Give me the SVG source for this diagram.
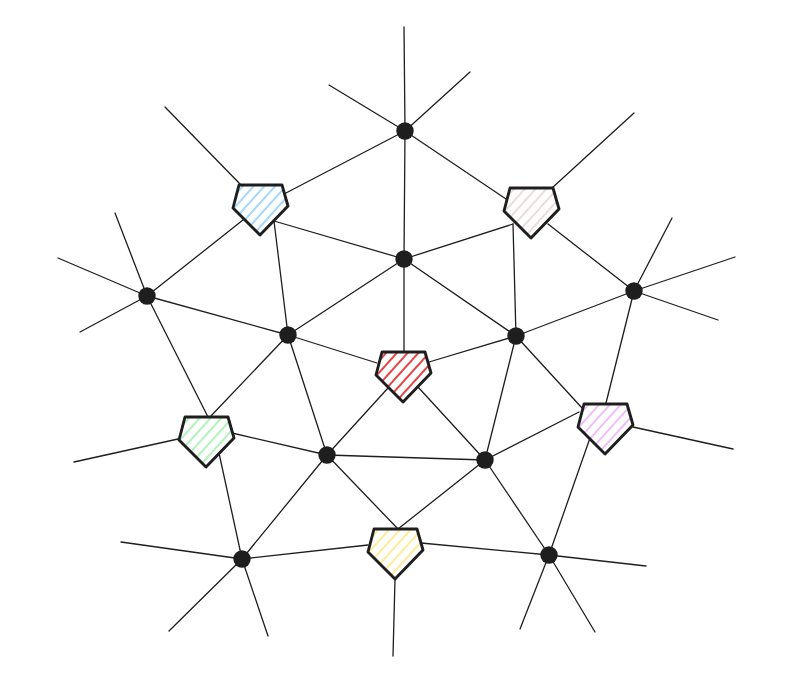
<svg xmlns="http://www.w3.org/2000/svg" width="794" height="694" viewBox="0 0 794 694">
<style>
.e{stroke:#1e1e1e;stroke-width:1.3;fill:none;stroke-linecap:round}
.d{fill:#1e1e1e}
.p{stroke:#1e1e1e;stroke-width:2.9;stroke-linejoin:round}
</style>
<defs>
<path id="pent" d="M-21,-24 L22,-24 L28,-3 L0,26 L-27,-1 Z"/>
<pattern id="hb" width="8" height="8" patternUnits="userSpaceOnUse" patternTransform="rotate(42)"><rect width="8" height="8" fill="#fff"/><line x1="4" y1="0" x2="4" y2="8" stroke="#a5d8ff" stroke-width="2"/></pattern>
<pattern id="hg" width="8" height="8" patternUnits="userSpaceOnUse" patternTransform="rotate(42)"><rect width="8" height="8" fill="#fff"/><line x1="4" y1="0" x2="4" y2="8" stroke="#eaddd7" stroke-width="2"/></pattern>
<pattern id="hr" width="8" height="8" patternUnits="userSpaceOnUse" patternTransform="rotate(42)"><rect width="8" height="8" fill="#fff"/><line x1="4" y1="0" x2="4" y2="8" stroke="#e03131" stroke-width="1.8"/></pattern>
<pattern id="hgr" width="8" height="8" patternUnits="userSpaceOnUse" patternTransform="rotate(42)"><rect width="8" height="8" fill="#fff"/><line x1="4" y1="0" x2="4" y2="8" stroke="#b2f2bb" stroke-width="2"/></pattern>
<pattern id="hp" width="8" height="8" patternUnits="userSpaceOnUse" patternTransform="rotate(42)"><rect width="8" height="8" fill="#fff"/><line x1="4" y1="0" x2="4" y2="8" stroke="#eebefa" stroke-width="2"/></pattern>
<pattern id="hy" width="8" height="8" patternUnits="userSpaceOnUse" patternTransform="rotate(42)"><rect width="8" height="8" fill="#fff"/><line x1="4" y1="0" x2="4" y2="8" stroke="#ffec99" stroke-width="2"/></pattern>
</defs>
<rect width="794" height="694" fill="#fff"/>
<g id="connectors" class="e">
<line x1="405" y1="131" x2="404" y2="27"/>
<line x1="405" y1="131" x2="329" y2="85"/>
<line x1="405" y1="131" x2="470" y2="72"/>
<line x1="240" y1="184" x2="165" y2="107"/>
<line x1="552" y1="188" x2="634" y2="113"/>
<line x1="147" y1="296" x2="115" y2="213"/>
<line x1="147" y1="296" x2="58" y2="258"/>
<line x1="147" y1="296" x2="80" y2="332"/>
<line x1="634" y1="291" x2="672" y2="218"/>
<line x1="634" y1="291" x2="735" y2="257"/>
<line x1="634" y1="291" x2="718" y2="320"/>
<line x1="178" y1="439" x2="74" y2="462"/>
<line x1="633" y1="427" x2="733" y2="449"/>
<line x1="242" y1="559" x2="121" y2="542"/>
<line x1="242" y1="559" x2="169" y2="631"/>
<line x1="242" y1="559" x2="268" y2="636"/>
<line x1="549" y1="555" x2="646" y2="566"/>
<line x1="549" y1="555" x2="520" y2="629"/>
<line x1="549" y1="555" x2="595" y2="632"/>
<line x1="395" y1="579" x2="393" y2="656"/>
<line x1="405" y1="131" x2="284" y2="194"/>
<line x1="405" y1="131" x2="506" y2="199"/>
<line x1="405" y1="131" x2="404" y2="259"/>
<line x1="248" y1="216" x2="147" y2="296"/>
<line x1="274" y1="221" x2="288" y2="335"/>
<line x1="274" y1="221" x2="404" y2="259"/>
<line x1="513" y1="224" x2="404" y2="259"/>
<line x1="513" y1="224" x2="516" y2="336"/>
<line x1="548" y1="224" x2="634" y2="291"/>
<line x1="147" y1="296" x2="288" y2="335"/>
<line x1="147" y1="296" x2="208" y2="417"/>
<line x1="634" y1="291" x2="516" y2="336"/>
<line x1="634" y1="291" x2="606" y2="403"/>
<line x1="404" y1="259" x2="288" y2="335"/>
<line x1="404" y1="259" x2="516" y2="336"/>
<line x1="404" y1="259" x2="404" y2="351"/>
<line x1="288" y1="335" x2="377" y2="363"/>
<line x1="288" y1="335" x2="210" y2="417"/>
<line x1="288" y1="335" x2="327" y2="455"/>
<line x1="516" y1="336" x2="429" y2="362"/>
<line x1="516" y1="336" x2="485" y2="460"/>
<line x1="516" y1="336" x2="582" y2="408"/>
<line x1="388" y1="388" x2="327" y2="455"/>
<line x1="418" y1="387" x2="485" y2="460"/>
<line x1="327" y1="455" x2="485" y2="460"/>
<line x1="327" y1="455" x2="232" y2="433"/>
<line x1="327" y1="455" x2="242" y2="559"/>
<line x1="327" y1="455" x2="398" y2="529"/>
<line x1="485" y1="460" x2="398" y2="529"/>
<line x1="485" y1="460" x2="579" y2="412"/>
<line x1="485" y1="460" x2="549" y2="555"/>
<line x1="219" y1="453" x2="242" y2="559"/>
<line x1="242" y1="559" x2="368" y2="545"/>
<line x1="549" y1="555" x2="421" y2="543"/>
<line x1="549" y1="555" x2="590" y2="438"/>
</g>
<g id="n-blue"><use href="#pent" class="p" fill="url(#hb)" x="260" y="209"/></g>
<g id="n-gray"><use href="#pent" class="p" fill="url(#hg)" x="531" y="212"/></g>
<g id="n-red"><use href="#pent" class="p" fill="url(#hr)" x="403" y="376"/></g>
<g id="n-green"><use href="#pent" class="p" fill="url(#hgr)" x="206" y="441"/></g>
<g id="n-purple"><use href="#pent" class="p" fill="url(#hp)" x="605" y="428"/></g>
<g id="n-yellow"><use href="#pent" class="p" fill="url(#hy)" x="395" y="553"/></g>
<g id="n-a"><circle class="d" cx="405" cy="131" r="8.7"/></g>
<g id="n-b"><circle class="d" cx="404" cy="259" r="8.7"/></g>
<g id="n-c"><circle class="d" cx="147" cy="296" r="8.7"/></g>
<g id="n-d"><circle class="d" cx="634" cy="291" r="8.7"/></g>
<g id="n-e"><circle class="d" cx="288" cy="335" r="8.7"/></g>
<g id="n-f"><circle class="d" cx="516" cy="336" r="8.7"/></g>
<g id="n-g"><circle class="d" cx="327" cy="455" r="8.7"/></g>
<g id="n-h"><circle class="d" cx="485" cy="460" r="8.7"/></g>
<g id="n-i"><circle class="d" cx="242" cy="559" r="8.7"/></g>
<g id="n-j"><circle class="d" cx="549" cy="555" r="8.7"/></g>
</svg>
